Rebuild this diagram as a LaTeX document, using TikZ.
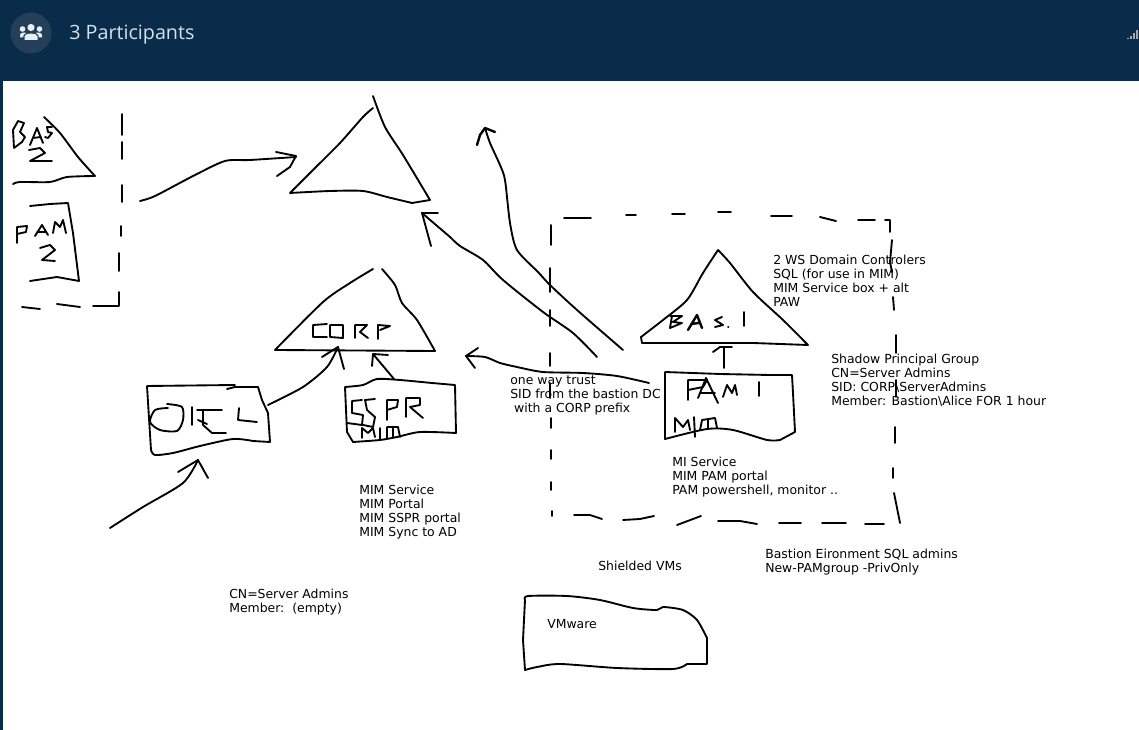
\documentclass[tikz,border=0pt]{standalone}
\usepackage{fontspec}
\setmainfont{DejaVu Sans}
\newfontfamily\titlefont{Open Sans}
\definecolor{headbar}{HTML}{0A2C4B}
\definecolor{circ}{HTML}{233F5A}
\definecolor{titlec}{HTML}{D5E0EA}
\tikzset{
  ink/.style={line width=1.4pt,black,line cap=round,line join=round},
  lab/.style={anchor=north west,inner sep=0pt,align=left,font=\fontsize{9.33}{10.5}\selectfont,text=black},
  sm/.style={smooth,tension=0.45},
}
\begin{document}
\begin{tikzpicture}[x=0.75pt,y=-0.75pt]
\useasboundingbox (0,0) rectangle (1139,730);
\fill[white] (0,0) rectangle (1139,730);
\fill[headbar] (0,0) rectangle (1139,81);
\fill[headbar] (0,81) rectangle (3,730);
\fill[circ] (31,33) circle (20.5);
% people icon
\fill[white!92!headbar] (31,27.5) circle (3.6) (22.5,29) circle (2.8) (39.5,29) circle (2.8);
\fill[white!92!headbar] (24.5,40) -- (24.5,36.5) .. controls (25,32.5) and (37,32.5) .. (37.5,36.5) -- (37.5,40) -- cycle;
\fill[white!92!headbar] (20,37.5) -- (20,35) .. controls (20,32.5) and (25,32) .. (26,33) .. controls (24,34) and (23,35.5) .. (23,37.5) -- cycle;
\fill[white!92!headbar] (42,37.5) -- (42,35) .. controls (42,32.5) and (37,32) .. (36,33) .. controls (38,34) and (39,35.5) .. (39,37.5) -- cycle;
\node[anchor=west,inner sep=0pt,text=titlec,font=\titlefont\fontsize{14.8}{18}\selectfont] (title) at (69,35) {3 Participants};
% signal icon
\fill[gray!70] (1127,38) rectangle +(1.5,1.5);
\fill[gray!70] (1130,36) rectangle +(1.5,3.5);
\fill[gray!70] (1133,33) rectangle +(1.5,6.5);
\fill[gray!70] (1136,30) rectangle +(2,9.5);
% BAS 2 group
\draw[ink] plot[sm] coordinates {(44,117) (60,133) (78,157) (95,176)} -- plot[sm] coordinates {(95,176) (67,177) (50,182) (20,182) (13,184)};
\draw[ink] (14,148) -- (13,130) -- (18,121) -- (24,123) -- (20,132) -- (25,137) -- (22,142) -- (14,148);
\draw[ink] (30,145) -- (37,128) -- (43,143) (33,138) -- (41,137);
\draw[ink] (52,127) -- (47,127) -- (48,132) -- (52,133) -- (48,138) -- (45,137);
\draw[ink] (29,150) -- (40,148) -- (45,153) -- (30,161) -- (52,161);
% PAM 2
\draw[ink] (30,206) -- (50,204) -- (68,203) -- (73,233) -- (79,281) -- (57,277) -- (30,281);
\draw[ink] (17,243) -- (17,227) -- (27,226) -- (26,232) -- (17,234);
\draw[ink] (35,236) -- (42,225) -- (48,235) (37,232) -- (46,232);
\draw[ink] (53,233) -- (55,222) -- (60,227) -- (63,220) -- (66,233);
\draw[ink] (40,248) -- (50,245) -- (55,250) -- (42,260) -- (55,261);
% dashed group left
\draw[ink] (122,114) -- (122,135) (122,142) -- (122,159) (122,185) -- (122,202) (121,226) -- (121,236) (119,253) -- (119,271) (119,292) -- (119,306) -- (93,306) (80,307) -- (57,304) (40,309) -- (22,307);
% arrow to forest
\draw[ink] plot[sm] coordinates {(140,201) (155,196) (195,175) (225,161) (250,160) (296,157)};
\draw[ink] (276,152) -- (296,156) -- (290,167) -- (277,176);
% top triangle
\draw[ink] plot[sm] coordinates {(373,96) (385,127) (403,155) (430,200)} -- (412,203) -- plot[sm] coordinates {(412,203) (387,197) (363,191) (330,191) (290,193)} -- plot[sm] coordinates {(290,193) (313,170) (340,143) (363,117) (373,108)};
% arrows right of triangle
\draw[ink] (431,246) -- (422,213) -- (438,213);
\draw[ink] plot[sm] coordinates {(422,213) (436,225) (450,237) (460,246) (483,260) (503,280) (543,312) (573,333) (597,357)};
\draw[ink,line width=1.8pt] (477,145) -- (480,135) -- (485,128) -- (495,132);
\draw[ink] plot[sm] coordinates {(485,128) (490,143) (500,165) (505,180) (510,223) (517,250) (538,272) (550,285) (577,310) (623,350)};
% big dashed
\draw[ink] (564,218) -- (591,218) (626,215) -- (636,215) (672,214) -- (685,214) (718,212) -- (731,212) (771,216) -- (792,216) (820,217) -- (836,221) (858,220) -- (875,220) (885,220) -- (890,220) -- (890,232);
\draw[ink] (892,240) -- (890,262) -- (892,272) (893,297) -- (894,310) (896,335) -- (896,353) (896,380) -- (896,397) (895,427) -- (895,443) (893,468) -- (893,478) (894,493) -- (900,523);
\draw[ink] (884,524) -- (865,524) (846,523) -- (822,523) (801,523) -- (779,523) (757,524) -- (740,521) -- (718,521) (701,516) -- (677,525) (654,516) -- (640,519) -- (623,520) (602,519) -- (590,515) -- (574,515);
\draw[ink] (552,511) -- (552,516) (551,482) -- (551,490) (551,450) -- (551,459) (551,418) -- (551,428) (550,383) -- (550,398) (550,353) -- (550,366) (550,310) -- (550,326) (550,268) -- (550,292) (551,225) -- (551,245);
% CORP triangle
\draw[ink] plot[sm] coordinates {(373,269) (350,283) (323,302) (275,350)} -- (435,351) -- plot[sm] coordinates {(435,351) (417,320) (402,303) (395,285) (382,269)};
\draw[ink] (327,324) -- (313,325) -- (313,337) -- (327,337);
\draw[ink] (330,325) -- (343,325) -- (343,338) -- (330,337) -- cycle;
\draw[ink] (355,338) -- (355,325) -- (367,325) -- (360,332) -- (368,338);
\draw[ink] (378,339) -- (378,325) -- (390,326) -- (380,330);
% arrows to CORP
\draw[ink] plot[sm] coordinates {(268,405) (303,387) (327,367) (338,347)};
\draw[ink] (322,357) -- (338,347) -- (344,369);
\draw[ink] (394,379) -- (373,354) -- (372,366) (373,354) -- (388,355);
% ORCL box
\draw[ink] (147,386) -- (235,385) (227,389) -- (235,387) -- (258,387) -- (262,400) -- (268,413) -- (270,442) -- (253,441) -- plot[sm] coordinates {(253,441) (233,439) (200,446) (173,453) (155,455) (151,450)} -- (147,386);
\draw[ink] plot[sm] coordinates {(167,404) (182,407) (183,420) (177,431) (160,430) (150,422) (155,410) (168,408)};
\draw[ink] (192,407) -- (192,425) (197,410) -- (205,410) (198,420) -- (207,424);
\draw[ink] (222,410) -- (203,410) -- (203,425) -- (212,433) -- (226,433);
\draw[ink] (239,408) -- (238,420) -- (257,422);
% arrow into ORCL
\draw[ink] plot[sm] coordinates {(110,528) (143,507) (183,483) (198,460)};
\draw[ink] (178,472) -- (198,460) -- (208,478);
% SSPR box
\draw[ink] plot[sm] coordinates {(345,387) (363,385) (377,379) (400,380) (432,383) (455,385)} -- (456,433) -- plot[sm] coordinates {(456,433) (420,432) (397,437) (380,440) (353,442)} -- (347,432) -- (345,387);
\draw[ink] (362,400) -- (352,401) -- (352,413) -- (363,415) -- (362,425) -- (347,423);
\draw[ink] (375,399) -- (365,400) -- (367,410) -- (375,417) -- (373,427) -- (363,425);
\draw[ink] (387,420) -- (387,400) -- (398,400) -- (397,407) -- (387,410);
\draw[ink] (406,417) -- (406,398) -- (420,398) -- (420,405) -- (410,407) -- (423,418);
\draw[ink] (362,438) -- (362,428) -- (368,433) -- (373,428) -- (375,437) (380,428) -- (380,440) (387,438) -- (387,427) -- (398,427) -- (400,437) (393,427) -- (393,437);
% BAS.1 triangle
\draw[ink] plot[sm] coordinates {(718,250) (730,263) (753,292) (783,320) (808,345)} -- (753,343) -- (642,343) -- (641,337) -- plot[sm] coordinates {(641,337) (663,320) (687,300) (703,273) (718,250)};
\draw[ink] (670,316) -- (682,316) -- (673,322) -- (682,323) -- (670,328) -- (672,316);
\draw[ink,line width=1.8pt] (688,330) -- (697,315) -- (702,328) (691,324) -- (699,323);
\draw[ink] (722,317) -- (715,320) -- (723,325) -- (715,327);
\draw[ink] (728,327) -- (728.5,327);
\draw[ink] (744,312) -- (744,326);
% PAM 1 arrow
\draw[ink] (724,368) -- (724,348) (713,352) -- (720,347) -- (732,347);
% PAM 1 box
\draw[ink] (665,372) -- (665,439) -- plot[sm] coordinates {(665,439) (707,429) (733,430) (767,440) (780,440)} -- (795,432) -- (793,393) -- (792,375) -- (770,375) -- (720,374) -- (665,372);
\draw[ink] (688,400) -- (688,380) -- (707,380) -- (703,387) -- (688,390);
\draw[ink] (698,398) -- (706,378) -- (718,403) (700,393) -- (715,393);
\draw[ink] (723,397) -- (727,385) -- (732,393) -- (735,385) -- (737,395);
\draw[ink] (759,382) -- (759,396);
\draw[ink] (675,432) -- (675,418) -- (683,427) -- (688,420) -- (690,430);
\draw[ink] (695,437) -- (694,417);
\draw[ink] (700,430) -- (702,420) -- (715,418) -- (717,428) (708,419) -- (708,428);
% VMware cloud
\draw[ink] plot[sm] coordinates {(525,600) (528,596) (567,596) (600,600) (633,608) (657,610) (663,607) (683,610) (697,620) (707,638)} -- (707,664) -- (687,664) -- plot[sm] coordinates {(687,664) (673,669) (617,668) (560,664) (537,667) (525,670)} -- (523,640) -- (525,600);
% labels
\node[lab] (l1) at (773,255) {2 WS Domain Controlers\\SQL (for use in MIM)\\MIM Service box + alt\\PAW};
\node[lab] (l2) at (831,354) {Shadow Principal Group\\CN=Server Admins\\SID: CORP\textbackslash ServerAdmins\\Member: Bastion\textbackslash Alice FOR 1 hour};
\node[lab] (l3) at (510,376) {one way trust\\SID from the bastion DC\\\ with a CORP prefix};
\node[lab] (l4) at (672,457) {MI Service\\MIM PAM portal\\PAM powershell, monitor ..};
\node[lab] (l5) at (359,485) {MIM Service\\MIM Portal\\MIM SSPR portal\\MIM Sync to AD};
\node[lab] (l6) at (229,589) {CN=Server Admins\\Member:\ \ (empty)};
\node[lab] (l7) at (598,561) {Shielded VMs};
\node[lab] (l8) at (765,549) {Bastion Eironment SQL admins\\New-PAMgroup -PrivOnly};
\node[lab] (l9) at (547,619) {VMware};
% arrow beside labels
\draw[ink] plot[sm] coordinates {(649,383) (617,376) (583,373) (543,372) (517,367) (500,363) (485,357) (466,356)};
\draw[ink] (478,348) -- (466,356) -- (475,368);
\end{tikzpicture}
\end{document}
